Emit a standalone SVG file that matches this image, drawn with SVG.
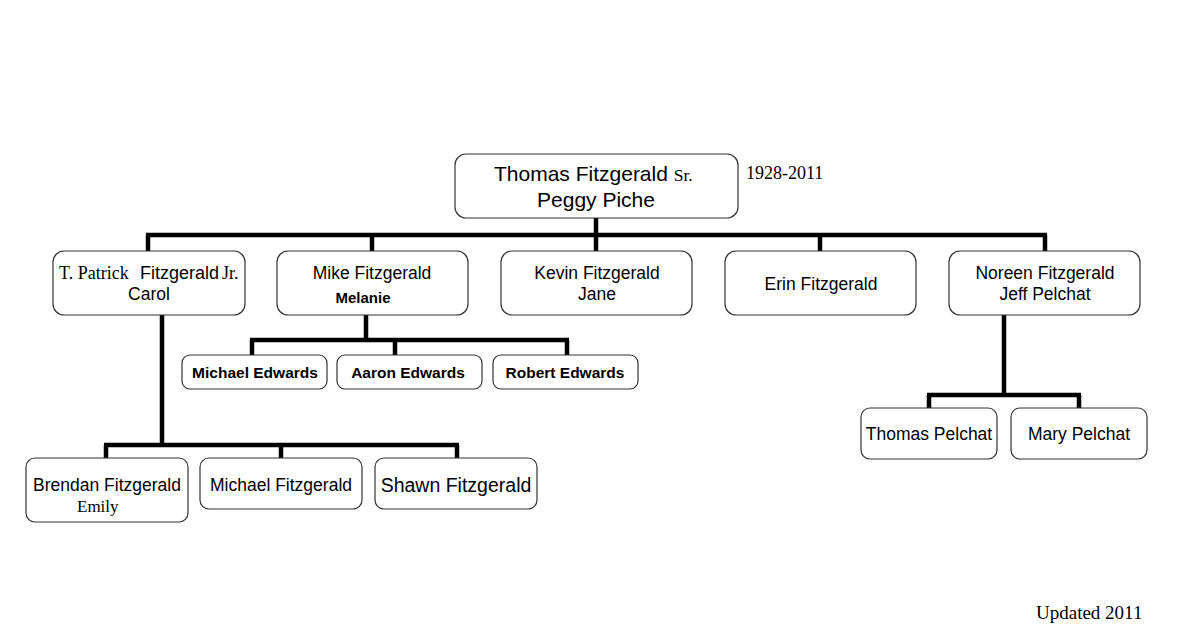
<svg xmlns="http://www.w3.org/2000/svg" width="1186" height="637" viewBox="0 0 1186 637">
<style>
.box{fill:#fff;stroke:#333;stroke-width:1.2}
.s{font-family:"Liberation Sans",Arial,sans-serif;fill:#000;text-anchor:middle}
.t{font-family:"Liberation Serif","Times New Roman",serif;fill:#000}
.b{font-weight:bold}
.ln{stroke:#000;stroke-width:4.5;fill:none}
</style>
<rect width="1186" height="637" fill="#fff"/>
<g id="connectors">
<path class="ln" d="M596 218V235M146 235H1047M148 235V251M372 235V251M596 235V251M820 235V251M1045 235V251"/>
<path class="ln" d="M366 315V340M250 340H569M252 340V355M395 340V355M567 340V355"/>
<path class="ln" d="M162 315V445M104 445H459M106 445V458M281 445V458M457 445V458"/>
<path class="ln" d="M1004 315V395M927 395H1081M929 395V408M1079 395V408"/>
</g>
<g id="root">
<rect class="box" x="455" y="154" width="283" height="64" rx="11"/>
<text x="494" y="181" style="font-family:'Liberation Sans',Arial,sans-serif;font-size:21px">Thomas Fitzgerald <tspan class="t" style="font-size:17.5px">Sr.</tspan></text>
<text class="s" x="596" y="207" style="font-size:21px">Peggy Piche</text>
<text class="t" x="746" y="179" style="font-size:18px">1928-2011</text>
</g>
<g id="patrick">
<rect class="box" x="53" y="251" width="192" height="64" rx="11"/>
<text x="59" y="279" style="font-size:18px;font-family:'Liberation Sans',Arial,sans-serif"><tspan class="t" style="font-size:18px">T. Patrick</tspan><tspan x="140">Fitzgerald</tspan><tspan class="t" x="222" style="font-size:18px">Jr.</tspan></text>
<text class="s" x="149" y="300" style="font-size:17.5px">Carol</text>
</g>
<g id="mike">
<rect class="box" x="277" y="251" width="191" height="64" rx="11"/>
<text class="s" x="372" y="279" style="font-size:17.5px">Mike Fitzgerald</text>
<text class="s b" x="363" y="303" style="font-size:15px">Melanie</text>
</g>
<g id="kevin">
<rect class="box" x="501" y="251" width="191" height="64" rx="11"/>
<text class="s" x="597" y="279" style="font-size:17.5px">Kevin Fitzgerald</text>
<text class="s" x="597" y="300" style="font-size:17.5px">Jane</text>
</g>
<g id="erin">
<rect class="box" x="725" y="251" width="191" height="64" rx="11"/>
<text class="s" x="821" y="290" style="font-size:17.5px">Erin Fitzgerald</text>
</g>
<g id="noreen">
<rect class="box" x="949" y="251" width="191" height="64" rx="11"/>
<text class="s" x="1045" y="279" style="font-size:17.5px">Noreen Fitzgerald</text>
<text class="s" x="1045" y="300" style="font-size:17.5px">Jeff Pelchat</text>
</g>
<g id="michael-edwards">
<rect class="box" x="182" y="355" width="145" height="34" rx="8"/>
<text class="s b" x="255" y="378" style="font-size:15.5px">Michael Edwards</text>
</g>
<g id="aaron-edwards">
<rect class="box" x="337" y="355" width="145" height="34" rx="8"/>
<text class="s b" x="408" y="378" style="font-size:15.5px">Aaron Edwards</text>
</g>
<g id="robert-edwards">
<rect class="box" x="493" y="355" width="145" height="34" rx="8"/>
<text class="s b" x="565" y="378" style="font-size:15.5px">Robert Edwards</text>
</g>
<g id="brendan">
<rect class="box" x="26" y="458" width="162" height="64" rx="9"/>
<text class="s" x="107" y="491" style="font-size:17.5px">Brendan Fitzgerald</text>
<text class="t" x="77" y="512" style="font-size:17px">Emily</text>
</g>
<g id="michael-fitzgerald">
<rect class="box" x="200" y="458" width="162" height="51" rx="9"/>
<text class="s" x="281" y="491" style="font-size:17.5px">Michael Fitzgerald</text>
</g>
<g id="shawn">
<rect class="box" x="375" y="458" width="162" height="51" rx="9"/>
<text class="s" x="456" y="492" style="font-size:19.5px">Shawn Fitzgerald</text>
</g>
<g id="thomas-pelchat">
<rect class="box" x="861" y="408" width="136" height="51" rx="9"/>
<text class="s" x="929" y="440" style="font-size:17.5px">Thomas Pelchat</text>
</g>
<g id="mary-pelchat">
<rect class="box" x="1011" y="408" width="136" height="51" rx="9"/>
<text class="s" x="1079" y="440" style="font-size:17.5px">Mary Pelchat</text>
</g>
<text class="t" x="1036" y="619" style="font-size:19px">Updated 2011</text>
</svg>
